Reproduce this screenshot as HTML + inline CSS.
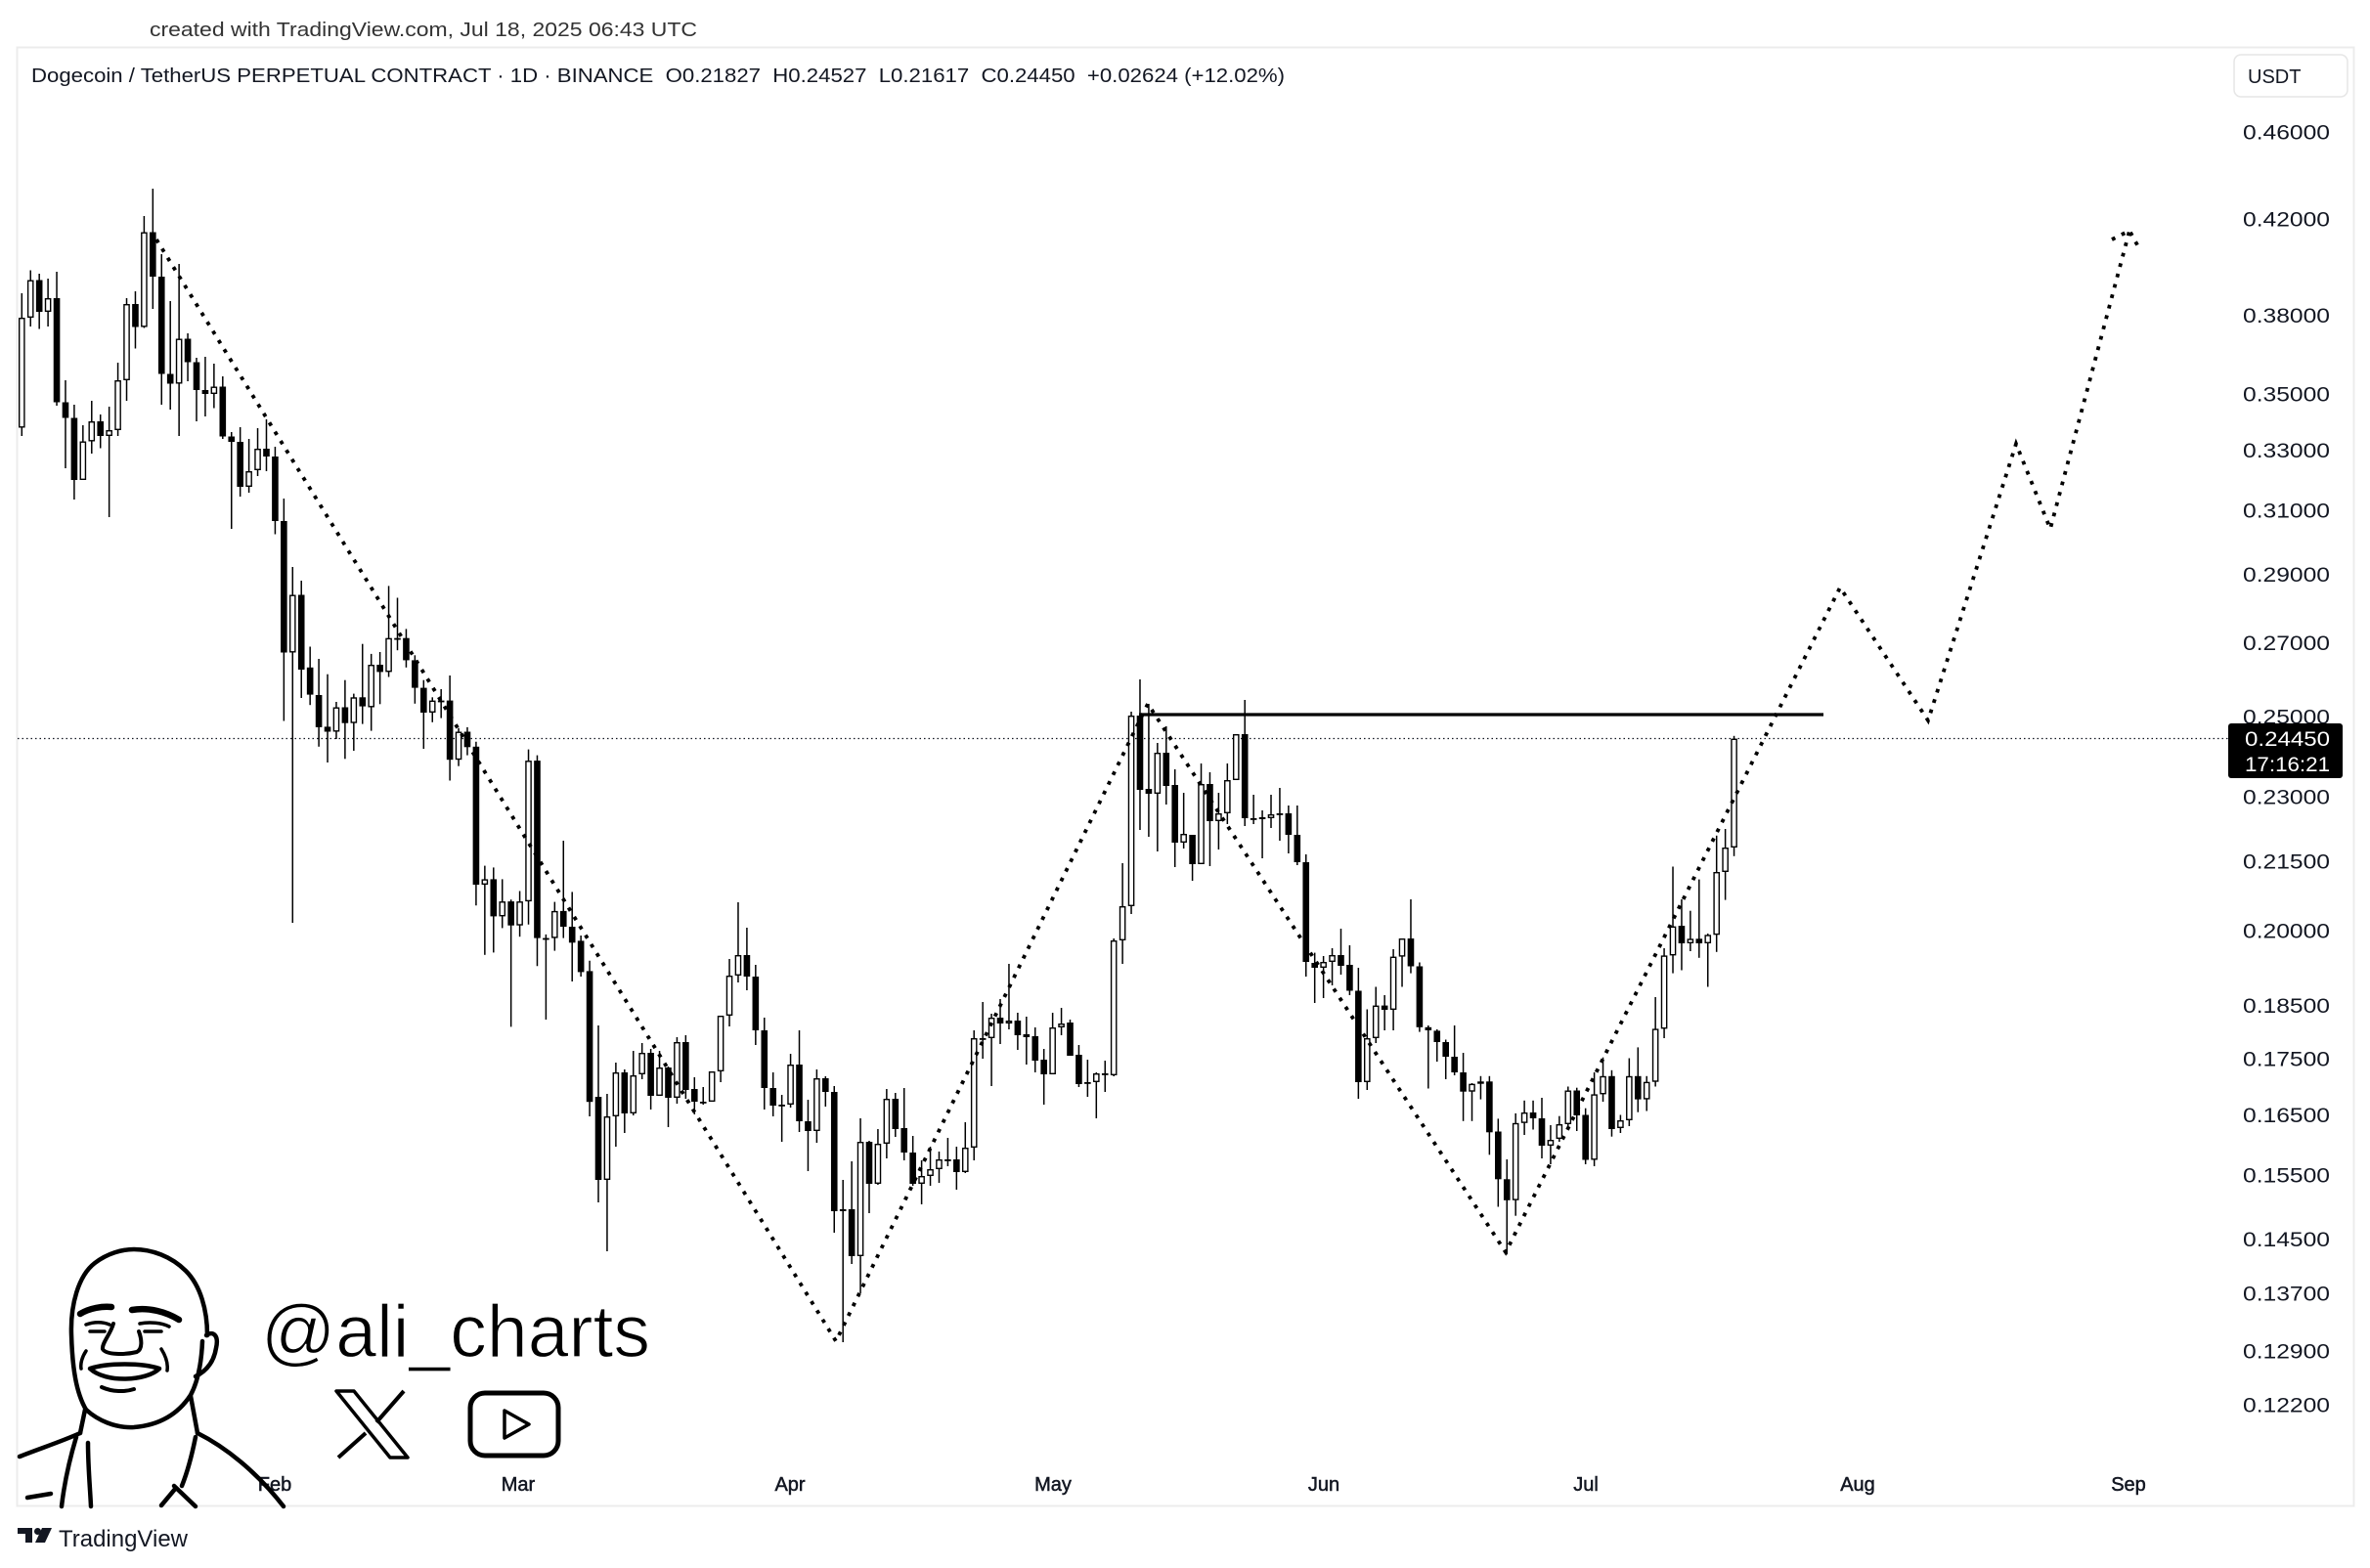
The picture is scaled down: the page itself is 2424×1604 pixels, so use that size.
<!DOCTYPE html>
<html><head><meta charset="utf-8"><style>
html,body{margin:0;padding:0;background:#fff;}
svg{display:block;}
text{font-family:"Liberation Sans",Arial,sans-serif;}
</style></head><body>
<svg id="s" xmlns="http://www.w3.org/2000/svg" width="2424" height="1604" viewBox="0 0 2424 1604">
<rect x="0" y="0" width="2424" height="1604" fill="#fff"/>
<text x="153" y="37" font-size="20" fill="#333" textLength="560" lengthAdjust="spacingAndGlyphs">created with TradingView.com, Jul 18, 2025 06:43 UTC</text>
<rect x="17.5" y="48.5" width="2390" height="1492" fill="none" stroke="#ececec" stroke-width="2"/>
<text x="32" y="84" font-size="20.5" fill="#131722" textLength="1282" lengthAdjust="spacingAndGlyphs" xml:space="preserve">Dogecoin / TetherUS PERPETUAL CONTRACT · 1D · BINANCE  O0.21827  H0.24527  L0.21617  C0.24450  +0.02624 (+12.02%)</text>
<rect x="2285" y="56" width="116" height="43" rx="7" fill="#fff" stroke="#e6e6e6" stroke-width="1.5"/>
<text x="2299" y="85" font-size="20" fill="#131722">USDT</text>
<g font-size="21" fill="#131722" text-anchor="end">
<text x="2383" y="142.5" textLength="89" lengthAdjust="spacingAndGlyphs">0.46000</text>
<text x="2383" y="231.5" textLength="89" lengthAdjust="spacingAndGlyphs">0.42000</text>
<text x="2383" y="330" textLength="89" lengthAdjust="spacingAndGlyphs">0.38000</text>
<text x="2383" y="410.5" textLength="89" lengthAdjust="spacingAndGlyphs">0.35000</text>
<text x="2383" y="468" textLength="89" lengthAdjust="spacingAndGlyphs">0.33000</text>
<text x="2383" y="529.5" textLength="89" lengthAdjust="spacingAndGlyphs">0.31000</text>
<text x="2383" y="595" textLength="89" lengthAdjust="spacingAndGlyphs">0.29000</text>
<text x="2383" y="665" textLength="89" lengthAdjust="spacingAndGlyphs">0.27000</text>
<text x="2383" y="740.5" textLength="89" lengthAdjust="spacingAndGlyphs">0.25000</text>
<text x="2383" y="822.5" textLength="89" lengthAdjust="spacingAndGlyphs">0.23000</text>
<text x="2383" y="888.5" textLength="89" lengthAdjust="spacingAndGlyphs">0.21500</text>
<text x="2383" y="959.5" textLength="89" lengthAdjust="spacingAndGlyphs">0.20000</text>
<text x="2383" y="1036" textLength="89" lengthAdjust="spacingAndGlyphs">0.18500</text>
<text x="2383" y="1090.5" textLength="89" lengthAdjust="spacingAndGlyphs">0.17500</text>
<text x="2383" y="1148" textLength="89" lengthAdjust="spacingAndGlyphs">0.16500</text>
<text x="2383" y="1209.5" textLength="89" lengthAdjust="spacingAndGlyphs">0.15500</text>
<text x="2383" y="1275" textLength="89" lengthAdjust="spacingAndGlyphs">0.14500</text>
<text x="2383" y="1330.5" textLength="89" lengthAdjust="spacingAndGlyphs">0.13700</text>
<text x="2383" y="1389.5" textLength="89" lengthAdjust="spacingAndGlyphs">0.12900</text>
<text x="2383" y="1444.5" textLength="89" lengthAdjust="spacingAndGlyphs">0.12200</text>
</g>
<line x1="18" y1="755.5" x2="2280" y2="755.5" stroke="#131722" stroke-width="1.3" stroke-dasharray="1.5 3"/>
<g font-size="20" fill="#131722" text-anchor="middle" stroke="#131722" stroke-width="0.5">
<text x="281" y="1525">Feb</text>
<text x="530" y="1525">Mar</text>
<text x="808" y="1525">Apr</text>
<text x="1077" y="1525">May</text>
<text x="1354" y="1525">Jun</text>
<text x="1622" y="1525">Jul</text>
<text x="1900" y="1525">Aug</text>
<text x="2177" y="1525">Sep</text>
</g>
<g id="candles"></g>
<line x1="1165" y1="731" x2="1865" y2="731" stroke="#000" stroke-width="3.2"/>
<polyline points="160,245 855,1372 1174,720 1540,1281 1882,601 1972,737 2062,454 2097,541 2178,236" fill="none" stroke="#000" stroke-width="3.8" stroke-dasharray="3.8 7.2"/>
<polyline points="2160,245 2178,236 2189,256" fill="none" stroke="#000" stroke-width="3.8" stroke-dasharray="3.8 7.2"/>
<rect x="2279" y="740" width="117" height="56" rx="3" fill="#000"/>
<g font-size="21" fill="#fff" text-anchor="end">
<text x="2383" y="763" textLength="87" lengthAdjust="spacingAndGlyphs">0.24450</text>
<text x="2383" y="789" textLength="87" lengthAdjust="spacingAndGlyphs">17:16:21</text>
</g>
<!-- watermark -->
<g fill="none" stroke="#000" stroke-width="4.5" stroke-linecap="round" stroke-linejoin="round">
<path d="M88,1442 C78,1425 74,1400 73,1365 C72,1335 80,1305 97,1292 C110,1282 125,1278 137,1278 C155,1278 175,1285 190,1300 C205,1315 212,1340 212,1366"/>
<path d="M211,1366 C218,1361 224,1366 221,1379 C219,1392 212,1402 200,1408"/>
<path d="M207,1372 C206,1395 202,1414 195,1427 C182,1447 162,1458 137,1460 C118,1461 100,1453 88,1442"/>
<path d="M87,1442 L82,1466 M195,1428 L202,1466"/>
<path d="M82,1344 C92,1338 105,1336 114,1337" stroke-width="6.5"/>
<path d="M135,1340 C152,1337 170,1342 183,1350" stroke-width="6.5"/>
<path d="M88,1355 C96,1352 105,1352 112,1355 M92,1362 L107,1362 M143,1354 C153,1352 165,1353 173,1357 M148,1362 L165,1362" stroke-width="3.5"/>
<path d="M116,1354 C113,1365 104,1374 105,1380 C108,1386 128,1386 140,1383 C146,1380 145,1370 142,1362" stroke-width="4"/>
<path d="M88,1382 C84,1388 82,1395 83,1400 M165,1380 C170,1388 172,1395 171,1402" stroke-width="3.5"/>
<path d="M92,1400 C110,1394 145,1394 163,1400 C150,1413 108,1415 92,1400 Z" fill="#fff"/>
<path d="M104,1419 C115,1424 128,1424 137,1421" stroke-width="4"/>
<path d="M20,1490 C40,1482 62,1475 82,1466 M202,1466 C230,1480 262,1505 290,1541"/>
<path d="M78,1470 C72,1490 66,1515 63,1541 M90,1476 C90,1500 92,1520 93,1541 M28,1532 L52,1528"/>
<path d="M200,1470 C196,1490 192,1505 186,1520 M178,1520 L200,1541 M165,1540 L180,1522"/>
</g>
<text x="267" y="1388" font-size="76" fill="#000" stroke="#fff" stroke-width="1.2" textLength="398" lengthAdjust="spacingAndGlyphs">@ali_charts</text>
<g fill="none" stroke="#000" stroke-linejoin="round">
<polygon points="344,1423 362,1423 417,1491 399,1491" stroke-width="3.5"/>
<line x1="413" y1="1423" x2="385" y2="1455" stroke-width="4"/>
<line x1="374" y1="1466" x2="346" y2="1491" stroke-width="4"/>
<rect x="481" y="1425" width="90" height="64" rx="15" stroke-width="5"/>
<polygon points="516,1443 541,1457 516,1471" stroke-width="3.5"/>
</g>
<!-- footer -->
<g fill="#131722">
<rect x="18" y="1563" width="15" height="6"/>
<rect x="26" y="1563" width="7" height="15"/>
<circle cx="38.5" cy="1566.5" r="3.5"/>
<polygon points="43,1563 53,1563 46,1578 36,1578"/>
</g>
<text x="60" y="1582" font-size="24" fill="#131722" textLength="132" lengthAdjust="spacingAndGlyphs">TradingView</text>
</svg>
<script>
(function(){
var D=[[1,300,325,437.5,446],[1,276.5,286.5,325,334],[0,280,286.5,319,336.5],[1,285,305,319,334],[0,278,305,411.5,415],[0,389,411.5,427.5,479],[0,414,427.5,491,511],[1,435,451.5,491,491],[1,410,431,451.5,464],[0,424,431,446,458.5],
[1,416,440,446,529],[1,371,389,440,446],[1,305,311,389,410],[0,298,311,334.5,356.5],[1,221,237.5,334.5,335.5],[0,193,237.5,283,316],[0,260,283,382.5,414],[0,308,382.5,392.5,419],[1,270,346.5,392.5,446],[0,341,346.5,370.5,390],
[0,366,370.5,399,431],[0,365,399,403,426],[1,372,395.5,403,417.5],[0,385,395.5,446.5,449],[0,442,446.5,452,541],[0,437,452,498,508],[1,449,482,498,504],[1,438,459,481,487],[0,429,459,467,482],[0,457,467,533,546.5],
[0,510,533,667.5,737.5],[1,580,608.5,667.5,944],[0,594,608.5,685,714],[0,661.5,682.8,710.6,721.2],[0,674,711,743.9,763.8],[0,689.7,743.4,748.5,780],[1,718,723.5,748.5,756],[0,695.7,723.5,739.7,776.3],[1,709.6,713.3,739.7,768],[0,658.7,713.3,722.6,740.6],
[1,668.9,680,723.5,747.6],[0,667,680,687.4,720.3],[1,599.4,652.7,687.4,692.5],[1,611.5,652.7,653.7,665.2],[0,643.4,652.7,675.4,682.8],[0,670.3,675.4,703.6,719.8],[0,695.7,703.6,729,766],[1,713.3,716.6,729,738.8],[1,705,716.6,717.6,734.6],[0,691,716.6,777.2,798.5],
[1,744.8,748.5,777.2,783.7],[0,743.9,748.5,764.3,772.6],[0,758.7,763.8,905,926.3],[1,885.6,899.4,905,976.8],[0,887.4,899.4,937.4,974.4],[1,899.4,922.1,937.4,949.4],[0,920.3,922.1,946.7,1050.4],[1,911.5,922.1,946.7,958.2],[1,766.6,778.1,922.1,945.7],[0,772.6,778.1,959.6,988.3],
[1,955.9,959.6,960.5,1043],[1,922.6,931.9,959.6,972.6],[0,860,931.9,948,959.6],[0,912.4,948,964.3,1004],[0,957,962.4,994.4,999],[0,982.8,993.4,1127.2,1142],[0,1049,1122,1207,1230],[1,1119,1142,1207,1280],[1,1087,1097,1142,1173],[0,1094,1097,1139,1159],
[1,1075,1100,1139,1141],[1,1067,1077,1099,1104],[0,1073,1077,1121,1135],[1,1075,1092,1121,1121],[0,1091,1092,1123,1153],[1,1061,1066,1123,1129],[0,1059,1066,1115,1124],[0,1102,1114,1127,1140],[1,1112,1127,1128,1130],[1,1096,1096,1127,1127],
[1,1039,1039,1096,1107],[1,981,998,1039,1050],[1,923,977,998,1005],[0,949,977,999,1013],[0,987,999,1054,1069],[0,1041,1054,1113,1135],[0,1097,1113,1131,1142],[1,1120,1130,1131,1168],[1,1078,1089,1130,1133],[0,1054,1089,1147,1158],
[0,1125,1147,1157,1198],[1,1094,1103,1157,1169],[0,1101,1103,1117,1132],[0,1111,1117,1239,1261],[1,1207,1237,1239,1373],[0,1188,1237,1285,1293],[1,1144,1168,1285,1323],[0,1167,1168,1211,1241],[1,1155,1170,1211,1212],[1,1114,1124,1170,1185],
[0,1118,1124,1155,1163],[0,1113,1154,1179,1187],[0,1162,1179,1211,1213],[1,1187,1203,1211,1232],[1,1173,1196,1203,1213],[1,1178,1186,1196,1210],[1,1164,1186,1187,1193],[0,1173,1186,1199,1217],[1,1148,1174,1199,1200],[1,1054,1062,1174,1187],
[1,1025,1062,1063,1083],[1,1037,1041,1062,1111],[0,1022,1041,1047,1068],[1,986,1044,1047,1053],[0,1036,1044,1059,1074],[0,1040,1058,1061,1089],[0,1051,1060,1085,1097],[0,1073,1084,1099,1130],[1,1036,1051,1099,1099],[1,1031,1047,1051,1059],
[0,1043,1046,1080,1080],[0,1069,1079,1109,1112],[1,1084,1107,1108,1122],[1,1097,1098,1107,1144],[1,1085,1098,1099,1117],[1,960,962,1100,1101],[1,883,927,962,986],[1,728,732,927,935],[0,695,732,808,849],[0,720,807,812,856],
[1,760,770,812,871],[0,743,770,804,823],[0,787,803,862,887],[1,811,853,862,868],[0,854,854,884,901],[1,781,802,884,884],[0,790,802,840,886],[1,811,832,840,869],[1,781,798,832,843],[1,751,751,798,798],
[0,716,751,837,845],[1,813,837,838,843],[0,829,836,838,878],[1,813,833,837,847],[1,806,832,833,860],[0,824,832,854,873],[0,824,854,882,885],[0,874,882,984,999],[0,974.6,985,990,1026],[1,978,984,990,1021],
[1,970,977,984,1008],[0,950,977,988,997],[0,967,987,1013.5,1018],[0,990,1013.5,1107,1124],[1,1032.5,1062,1107,1115],[1,1009.5,1028.6,1062,1067],[0,1018,1028.6,1033,1054],[1,971,978.6,1033,1054],[1,960,960,978.6,1009.5],[0,920,960,988.5,995.6],
[0,984.5,988.5,1050.8,1055.6],[0,1049,1050.8,1054,1113.5],[0,1053,1054.4,1066,1086],[0,1063.5,1066,1081,1104],[0,1049,1081,1097,1100],[0,1077,1097,1116.7,1146.8],[1,1108,1108.7,1116.7,1146.8],[1,1100.8,1106.3,1108.7,1124.6],[0,1100.8,1106.3,1158.3,1181.3],[0,1144.4,1157.5,1206.3,1234.5],
[0,1186,1206.3,1227.8,1283.3],[1,1138.9,1148.8,1227.8,1243.7],[1,1125.8,1138,1148.8,1161],[0,1125.8,1138,1144,1155.5],[0,1123,1144,1172,1185],[1,1151,1166,1172,1191],[1,1141.7,1150,1165,1168],[1,1111.5,1115.5,1150,1153.6],[0,1112.7,1115.5,1141,1157],[0,1133.7,1140.5,1186.5,1191],
[1,1097,1119.4,1186.5,1193],[1,1081.7,1100.8,1119.4,1127],[0,1094.8,1100.8,1155,1162.7],[1,1140.5,1146,1154,1159],[1,1082.5,1100.8,1146,1152],[0,1071.4,1100.8,1124.6,1137.7],[1,1100.8,1106.7,1124.6,1136.5],[1,1020,1052.4,1106.7,1111.5],[1,970,977.4,1052.4,1062],[1,886.5,947.6,977.4,995.6],
[0,920,947,965,992.5],[1,931.7,960.3,965,973],[0,899.6,960.3,965,979.8],[1,955,956.3,965,1009.5],[1,854.8,892,956.3,973.8],[1,848,867,892,920.6],[1,752.8,755.6,867,875.8]];
var NS="http://www.w3.org/2000/svg";
var g=document.getElementById("candles");
function el(n,a){var e=document.createElementNS(NS,n);for(var k in a)e.setAttribute(k,a[k]);g.appendChild(e);return e;}
for(var i=0;i<D.length;i++){
 var c=D[i],x=22.3+8.935*i;
 el("line",{x1:x,y1:c[1],x2:x,y2:c[4],stroke:"#000","stroke-width":1.5});
 var h=Math.max(c[3]-c[2],1.6);
 if(c[0]===1){
  el("rect",{x:x-2.6,y:c[2]+0.7,width:5.2,height:Math.max(h-1.4,0.4),fill:"#fff",stroke:"#000","stroke-width":1.4});
 }else{
  el("rect",{x:x-3.3,y:c[2],width:6.6,height:h,fill:"#000"});
 }
}
})();
</script>
</body></html>
